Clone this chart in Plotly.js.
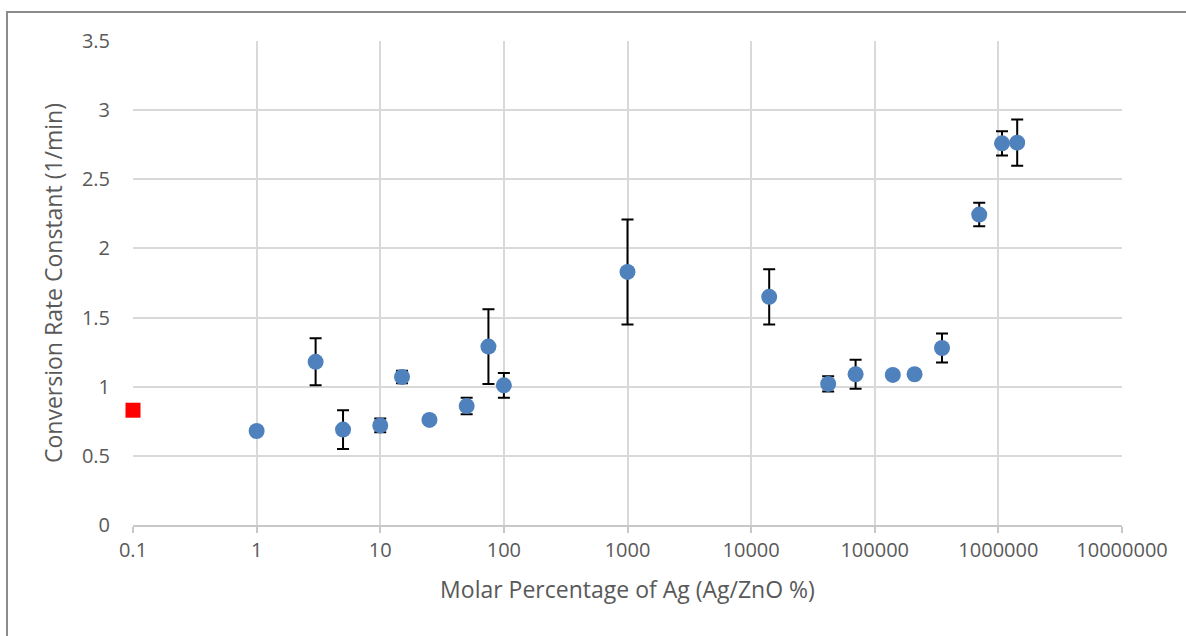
<!DOCTYPE html>
<html>
<head>
<meta charset="utf-8">
<script src="https://cdn.plot.ly/plotly-3.0.1.min.js"></script>
<style>
  html, body { margin: 0; padding: 0; background: #fff; }
  #wrap { position: relative; width: 1186px; height: 636px; overflow: hidden; }
  #chart { position: absolute; left: 0; top: 0; width: 1186px; height: 636px; }
  #frame { position: absolute; left: 6px; top: 11px; width: 1200px; height: 700px;
           border-top: 2px solid #8c8c8c; border-left: 2px solid #8c8c8c; pointer-events: none; }
</style>
</head>
<body>
<div id="wrap">
  <div id="chart"></div>
  <div id="frame"></div>
</div>
<script>
// Ag/ZnO samples
const molarPct = [1, 3, 5, 10, 15, 25, 50, 75, 100, 1000, 14000, 42000, 70000, 140000, 210000, 350000, 700000, 1070000, 1420000];
const rateConst = [0.68, 1.18, 0.69, 0.72, 1.07, 0.76, 0.86, 1.29, 1.01, 1.83, 1.65, 1.02, 1.09, 1.085, 1.09, 1.28, 2.245, 2.76, 2.765];
const rateErr   = [0, 0.17, 0.14, 0.05, 0.045, 0.02, 0.06, 0.27, 0.09, 0.38, 0.20, 0.055, 0.105, 0, 0, 0.105, 0.085, 0.088, 0.168];

// Reference (pure ZnO)
const refX = [0.1];
const refY = [0.83];

// Axis ticks
const xTickVals = [0.1, 1, 10, 100, 1000, 10000, 100000, 1000000, 10000000];
const xTickText = ["0.1", "1", "10", "100", "1000", "10000", "100000", "1000000", "10000000"];

const font = "'Open Sans', 'Noto Sans', sans-serif";
const textColor = "#595959";

const traces = [
  {
    type: "scatter", mode: "markers",
    x: molarPct, y: rateConst,
    error_y: { type: "data", array: rateErr, visible: true, color: "#000000", thickness: 2, width: 6 },
    marker: { color: "#4f81bd", size: 16, line: { width: 0 } },
    cliponaxis: false,
    showlegend: false
  },
  {
    type: "scatter", mode: "markers",
    x: refX, y: refY,
    marker: { color: "#ff0000", symbol: "square", size: 15, line: { width: 0 } },
    cliponaxis: false,
    showlegend: false
  }
];

const layout = {
  width: 1186, height: 636,
  margin: { l: 133, r: 64, t: 41, b: 111 },
  paper_bgcolor: "rgba(0,0,0,0)",
  plot_bgcolor: "#ffffff",
  font: { family: font, color: textColor, size: 20 },
  xaxis: {
    type: "log",
    range: [-1, 7],
    tickvals: xTickVals,
    ticktext: xTickText,
    showgrid: true, gridcolor: "#d9d9d9", gridwidth: 2,
    showline: true, linecolor: "#c8c8c8", linewidth: 2,
    ticks: "outside", ticklen: 6, tickcolor: "#c8c8c8", tickwidth: 2,
    tickfont: { family: font, size: 20, color: textColor },
    zeroline: false,
    title: { text: "Molar Percentage of Ag (Ag/ZnO %)", font: { family: font, size: 23, color: textColor }, standoff: 20 }
  },
  yaxis: {
    range: [0, 3.5],
    dtick: 0.5,
    showgrid: true, gridcolor: "#d9d9d9", gridwidth: 2,
    showline: false,
    zeroline: false,
    ticks: "",
    ticklabelstandoff: 22,
    tickfont: { family: font, size: 20, color: textColor },
    title: { text: "Conversion Rate Constant (1/min)", font: { family: font, size: 23, color: textColor }, standoff: 12 }
  }
};

Plotly.newPlot("chart", traces, layout, { displayModeBar: false, staticPlot: true });
</script>
</body>
</html>
